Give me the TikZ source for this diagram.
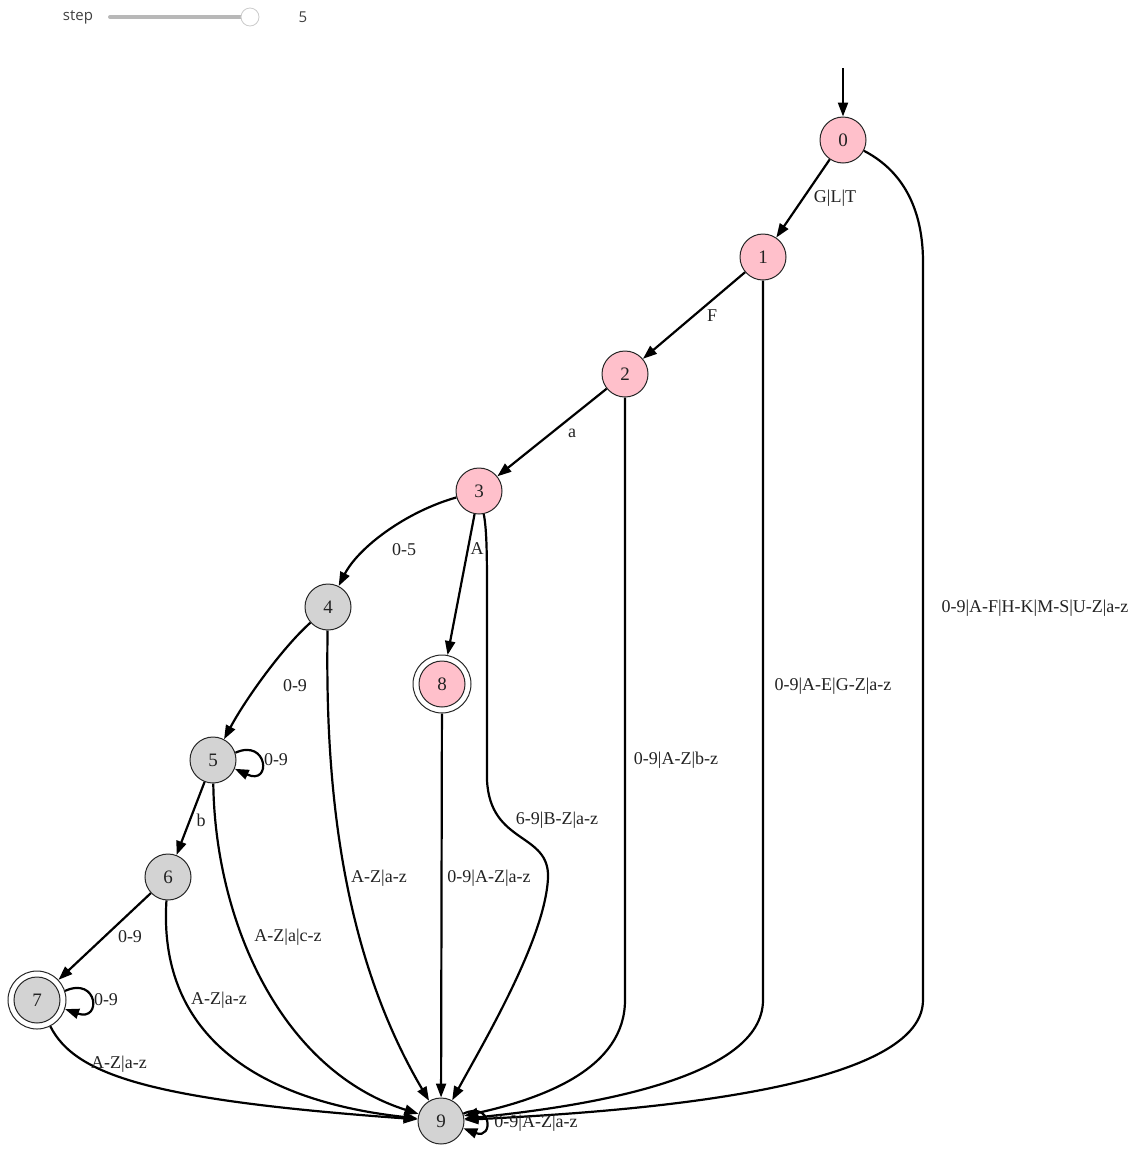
\documentclass[tikz,border=0pt]{standalone}
\usepackage{fontspec}
\setmainfont{Liberation Serif}
\newfontfamily\uifont{Open Sans}
\usetikzlibrary{arrows.meta}
\definecolor{statepink}{HTML}{FFC0CB}
\definecolor{stategray}{HTML}{D3D3D3}
\definecolor{inktext}{HTML}{222222}
\begin{document}
\begin{tikzpicture}[x=1pt,y=-1pt,
  state/.style={circle, draw=black!85, line width=1pt, minimum size=46pt, inner sep=0pt,
    font=\fontsize{19}{22}\selectfont, text=inktext},
  pinkstate/.style={state, fill=statepink},
  graystate/.style={state, fill=stategray},
  ring/.style={circle, draw=black!85, line width=1pt, minimum size=58pt, inner sep=0pt, fill=white},
  trans/.style={line width=2.2pt, -{Triangle[length=14pt,width=10pt]}},
  lbl/.style={font=\fontsize{18}{21}\selectfont, text=inktext, inner sep=1pt}]

\useasboundingbox (0,0) rectangle (1141,1149);

% step slider
\node[font=\uifont\fontsize{15}{17}\selectfont, text=black!75] (steplbl) at (78,17) {step};
\draw[line width=4pt, line cap=round, color=black!28] (110,17) -- (250,17);
\node[circle, draw=black!20, fill=white, line width=0.8pt, minimum size=18pt, inner sep=0pt] (knob) at (250,17) {};
\node[font=\uifont\fontsize{15}{17}\selectfont, text=black!75] (stepval) at (303,17) {5};

% states
\node[pinkstate] (n0) at (843,140) {0};
\node[pinkstate] (n1) at (763,257) {1};
\node[pinkstate] (n2) at (625,374) {2};
\node[pinkstate] (n3) at (479,491) {3};
\node[graystate] (n4) at (328,607) {4};
\node[ring] (n8) at (442,684) {};
\node[pinkstate] (n8in) at (442,684) {8};
\node[graystate] (n5) at (213,760) {5};
\node[graystate] (n6) at (168,877) {6};
\node[ring] (n7) at (37,1000) {};
\node[graystate] (n7in) at (37,1000) {7};
\node[graystate] (n9) at (441,1121) {9};

% start arrow
\coordinate (start) at (843,68);
\draw[trans] (start) -- (n0);

% straight transitions
\draw[trans] (n0) -- (n1);
\draw[trans] (n1) -- (n2);
\draw[trans] (n2) -- (n3);
\draw[trans] (n3) -- (n8);
\draw[trans] (n5) -- (n6);
\draw[trans] (n6) -- (n7);
\draw[trans] (n8) -- (n9);

% curved transitions
\draw[trans] (n3) .. controls (405,512) and (358,548) .. (n4);
\draw[trans] (n4) .. controls (282,648) and (245,700) .. (n5);
\draw[trans] (n0) .. controls (905,172) and (923,212) .. (923,262) -- (923,1000)
  .. controls (923,1092) and (620,1112) .. (n9);
\draw[trans] (n1) -- (763,1000) .. controls (763,1078) and (590,1106) .. (n9);
\draw[trans] (n2) -- (625,1000) .. controls (625,1068) and (545,1098) .. (n9);
\draw[trans] (n3) .. controls (487,530) and (487,560) .. (487,600) -- (487,780)
  .. controls (490,845) and (550,832) .. (548,878) .. controls (545,940) and (482,1045) .. (n9);
\draw[trans] (n4) .. controls (325,780) and (340,950) .. (n9);
\draw[trans] (n5) .. controls (215,920) and (280,1070) .. (n9);
\draw[trans] (n6) .. controls (158,1030) and (250,1100) .. (n9);
\draw[trans] (n7) .. controls (75,1075) and (150,1100) .. (n9);

% self loops
\draw[trans] (n5.18) .. controls (268,738) and (272,786) .. (n5.-22);
\draw[trans] (n7.18) .. controls (98,976) and (102,1022) .. (n7.-18);
\draw[trans] (n9.18) .. controls (492,1100) and (494,1140) .. (n9.-18);

% labels
\node[lbl] (l01) at (835,198) {G|L|T};
\node[lbl] (l12) at (712,316) {F};
\node[lbl] (l23) at (572,433) {a};
\node[lbl] (l34) at (404,550) {0-5};
\node[lbl] (l38) at (477,549) {A};
\node[lbl] (l45) at (295,686) {0-9};
\node[lbl] (l55) at (276,760) {0-9};
\node[lbl] (l56) at (201,820) {b};
\node[lbl] (l67) at (130,937) {0-9};
\node[lbl] (l77) at (106,1000) {0-9};
\node[lbl] (l09) at (1035,608) {0-9|A-F|H-K|M-S|U-Z|a-z};
\node[lbl] (l19) at (833,686) {0-9|A-E|G-Z|a-z};
\node[lbl] (l29) at (676,760) {0-9|A-Z|b-z};
\node[lbl] (l39) at (557,820) {6-9|B-Z|a-z};
\node[lbl] (l49) at (379,878) {A-Z|a-z};
\node[lbl] (l89) at (489,878) {0-9|A-Z|a-z};
\node[lbl] (l59) at (288,937) {A-Z|a|c-z};
\node[lbl] (l69) at (219,1000) {A-Z|a-z};
\node[lbl] (l79) at (119,1064) {A-Z|a-z};
\node[lbl] (l99) at (536,1123) {0-9|A-Z|a-z};
\end{tikzpicture}
\end{document}
